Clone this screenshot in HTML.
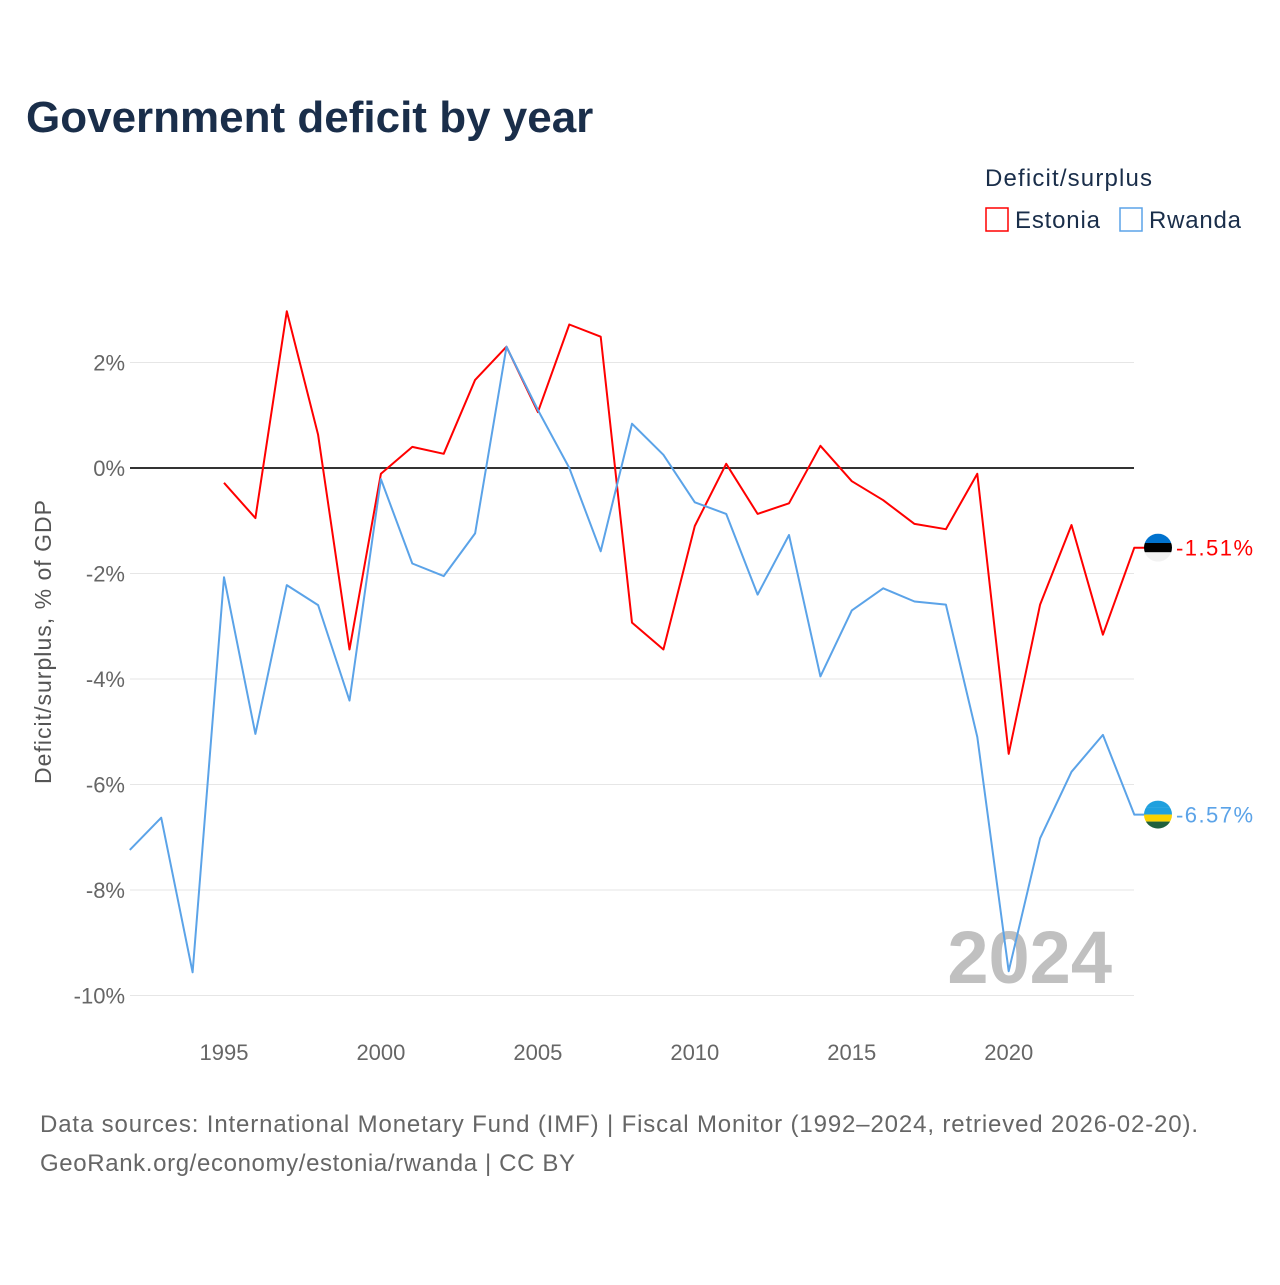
<!DOCTYPE html>
<html><head><meta charset="utf-8"><style>
body{margin:0;background:#fff;font-family:"Liberation Sans",sans-serif;}
svg text{font-family:"Liberation Sans",sans-serif;}
</style></head><body>
<svg id="c" width="1280" height="1280" viewBox="0 0 1280 1280">
<text x="26" y="132" font-size="44" font-weight="bold" fill="#1a2e4a">Government deficit by year</text>
<g>
<text x="985" y="186" font-size="24" fill="#1a2e4a" textLength="167">Deficit/surplus</text>
<rect x="986" y="208" width="22" height="23" fill="#fff" stroke="#ff0000" stroke-width="1.5"/>
<text x="1015" y="228" font-size="24" fill="#1a2e4a" textLength="85">Estonia</text>
<rect x="1120" y="208" width="22" height="23" fill="#fff" stroke="#5ba3e8" stroke-width="1.5"/>
<text x="1149" y="228" font-size="24" fill="#1a2e4a" textLength="92">Rwanda</text>
</g>
<g id="grid"></g>
<text x="1112" y="983" font-size="74" font-weight="bold" fill="#c0c0c0" text-anchor="end">2024</text>
<g id="series"></g>
<text transform="translate(51,642) rotate(-90)" font-size="23" fill="#555" text-anchor="middle" textLength="284">Deficit/surplus, % of GDP</text>
<text x="40" y="1132" font-size="24" fill="#666" textLength="1158">Data sources: International Monetary Fund (IMF) | Fiscal Monitor (1992–2024, retrieved 2026-02-20).</text>
<text x="40" y="1171" font-size="24" fill="#666" textLength="535">GeoRank.org/economy/estonia/rwanda | CC BY</text>
</svg>
<script>
const yTicks=[2,0,-2,-4,-6,-8,-10];
const xTicks=[1995,2000,2005,2010,2015,2020];
const estYears=[];for(let y=1995;y<=2024;y++)estYears.push(y);
const estonia=[-0.28,-0.95,2.97,0.63,-3.44,-0.11,0.40,0.27,1.67,2.30,1.06,2.72,2.49,-2.93,-3.44,-1.10,0.08,-0.87,-0.67,0.42,-0.25,-0.61,-1.06,-1.16,-0.11,-5.42,-2.59,-1.08,-3.16,-1.51];
const rwYears=[];for(let y=1992;y<=2024;y++)rwYears.push(y);
const rwanda=[-7.24,-6.63,-9.56,-2.07,-5.04,-2.22,-2.60,-4.41,-0.21,-1.81,-2.05,-1.24,2.30,1.10,0,-1.58,0.84,0.25,-0.65,-0.87,-2.40,-1.27,-3.95,-2.70,-2.28,-2.53,-2.59,-5.10,-9.54,-7.02,-5.76,-5.06,-6.57];
const X=y=>129.8+(y-1992)*31.39, Y=v=>468-v*52.75;
const NS="http://www.w3.org/2000/svg";
function mk(t,a,p){const e=document.createElementNS(NS,t);for(const k in a)e.setAttribute(k,a[k]);p.appendChild(e);return e;}
const g=document.getElementById('grid');
yTicks.forEach(v=>{
 const l=mk('line',{x1:130,x2:1134,y1:Y(v),y2:Y(v),stroke:v===0?'#333':'#e6e6e6','stroke-width':v===0?2:1},g);
 
 
 const t=mk('text',{x:125,y:Y(v)+8,'font-size':22,fill:'#666','text-anchor':'end'},g);
 t.textContent=v+'%';
 
 
});
xTicks.forEach(v=>{
 const t=mk('text',{x:X(v),y:1060,'font-size':22,fill:'#666','text-anchor':'middle'},g);
 t.textContent=v;
 
 
});
const s=document.getElementById('series');
function line(years,vals,col,name){
 const d=years.map((y,i)=>(i?'L':'M')+X(y).toFixed(1)+','+Y(vals[i]).toFixed(1)).join('')+'H1146';
 const p=mk('path',{d:d,fill:'none',stroke:col,'stroke-width':2,'stroke-linejoin':'round'},s);
 
 
 const last=vals[vals.length-1], yy=Y(last);
 const t=mk('text',{x:1176,y:yy+8,'font-size':22,fill:col,textLength:77},s);
 t.textContent=last.toFixed(2)+'%';
 
 
 return yy;
}
const ey=line(estYears,estonia,'#ff0000','estonia');
const ry=line(rwYears,rwanda,'#5ba3e8','rwanda');
function flag(cy,cols,name){
 const grp=mk('g',{},s);
 
 
 const id='clip'+name;
 const cp=mk('clipPath',{id:id},grp);mk('circle',{cx:1158,cy:cy,r:14},cp);
 const h=28/cols.length;
 cols.forEach((c,i)=>mk('rect',{x:1144,y:cy-14+i*h,width:28,height:h,fill:c,'clip-path':'url(#'+id+')'},grp));
}
flag(ey,['#0072ce','#000','#f2f2f2'],'estonia');
flag(ry,['#20a0de','#20a0de','#fad201','#20603d'],'rwanda');
</script>
</body></html>
